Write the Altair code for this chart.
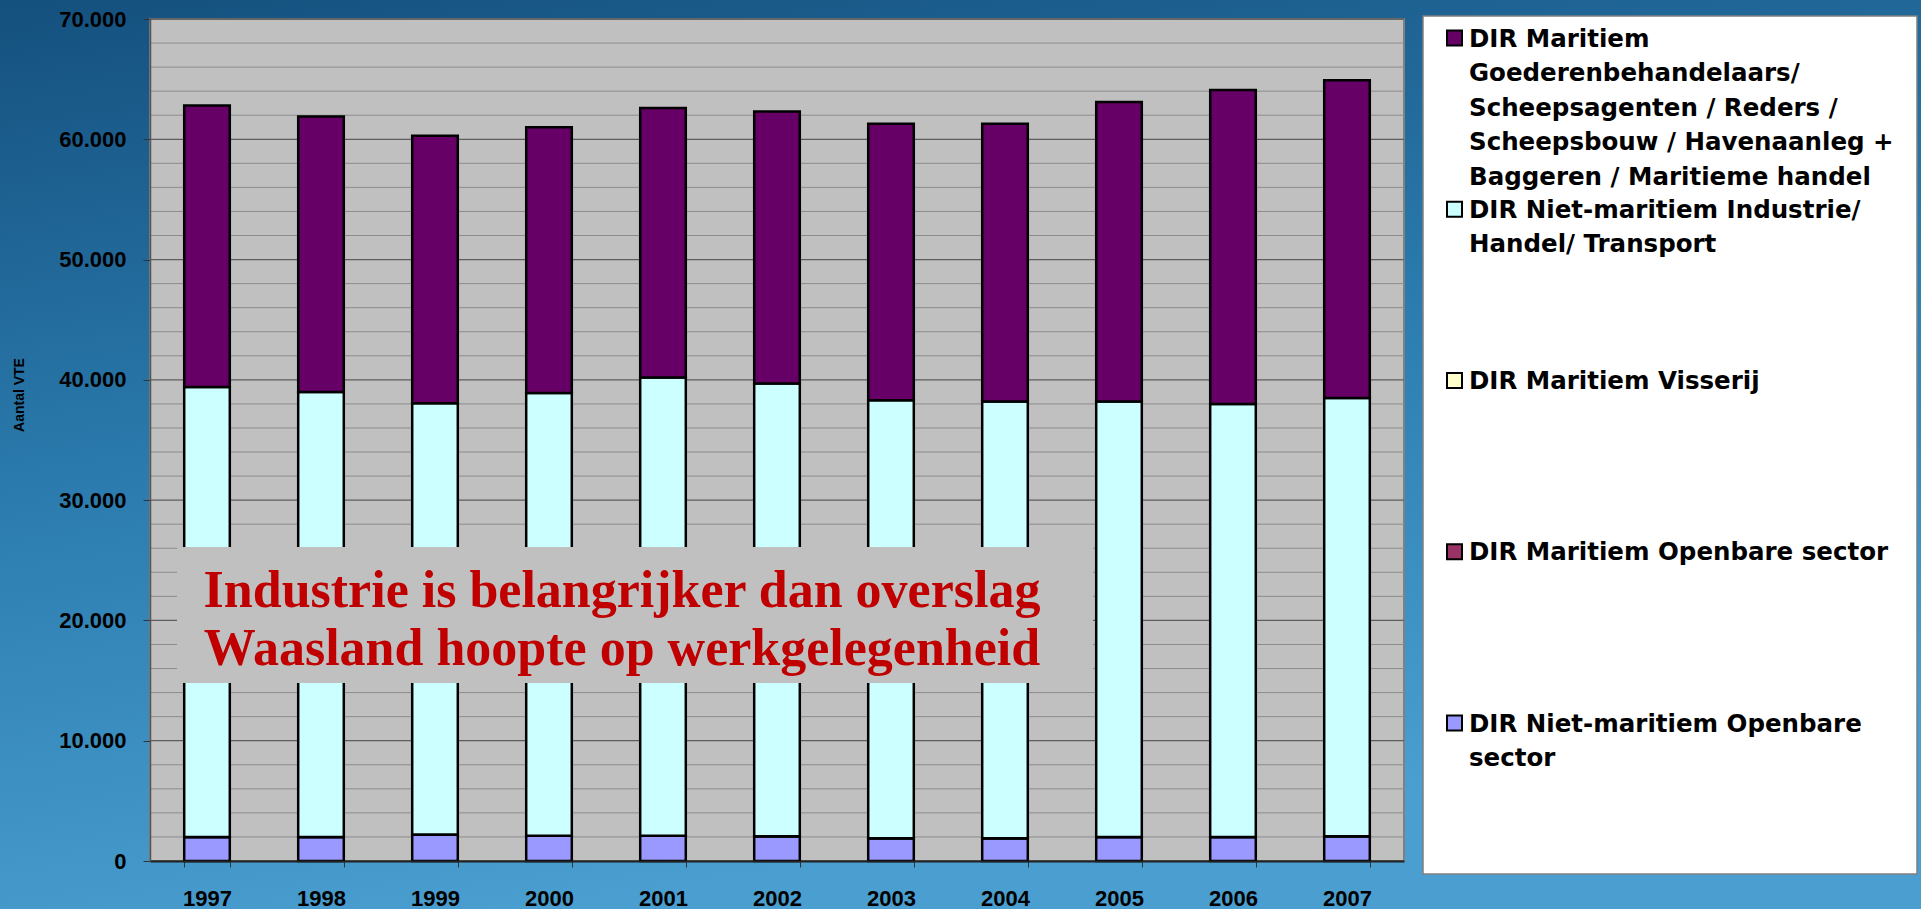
import altair as alt
import pandas as pd

# Employment (VTE) per year, split by sector; stacked bottom to top in this order
years = ["1997", "1998", "1999", "2000", "2001", "2002", "2003", "2004", "2005", "2006", "2007"]

nm_openbare = [2000, 2000, 2200, 2100, 2100, 2050, 1900, 1900, 2000, 2000, 2050]
m_openbare = [0, 0, 0, 0, 0, 0, 0, 0, 0, 0, 0]
m_visserij = [0, 0, 0, 0, 0, 0, 0, 0, 0, 0, 0]
nm_industrie = [37400, 37000, 35850, 36800, 38100, 37650, 36400, 36300, 36200, 36000, 36450]
m_goederen = [23400, 22900, 22250, 22100, 22400, 22600, 23000, 23100, 24900, 26100, 26400]

stack_series = [
    "nm_openbare",
    "m_openbare",
    "m_visserij",
    "nm_industrie",
    "m_goederen",
]
stack_values = [nm_openbare, m_openbare, m_visserij, nm_industrie, m_goederen]
series_colors = ["#9999FF", "#993366", "#FFFFCC", "#CCFFFF", "#660066"]

# Legend entries, listed top to bottom
legend_series = ["m_goederen", "nm_industrie", "m_visserij", "m_openbare", "nm_openbare"]
legend_labels = [
    "DIR Maritiem\nGoederenbehandelaars/\nScheepsagenten / Reders /\nScheepsbouw / Havenaanleg +\nBaggeren / Maritieme handel",
    "DIR Niet-maritiem Industrie/\nHandel/ Transport",
    "DIR Maritiem Visserij",
    "DIR Maritiem Openbare sector",
    "DIR Niet-maritiem Openbare\nsector",
]

y_ticks = [0, 10000, 20000, 30000, 40000, 50000, 60000, 70000]
minor_ticks = [v for v in range(0, 70001, 2000) if v % 10000 != 0]

y_title = "Aantal VTE"
message = "Industrie is belangrijker dan overslag\nWaasland hoopte op werkgelegenheid"

W, H = 1254, 842
SANS = "Liberation Sans"

rows = []
for pos, (name, vals) in enumerate(zip(stack_series, stack_values)):
    for yr, v in zip(years, vals):
        rows.append({"year": yr, "series": name, "value": v, "pos": pos})
bars_df = pd.DataFrame(rows)
legend_df = pd.DataFrame({"series": legend_series, "label": legend_labels})
one = pd.DataFrame({"k": [0]})

color_scale = alt.Scale(domain=stack_series, range=series_colors)
y_scale = alt.Scale(domain=[0, 70000], nice=False, zero=True)
y_axis = alt.Axis(
    title=None,
    values=y_ticks,
    labelExpr="replace(format(datum.value, ','), ',', '.')",
    labelFont=SANS, labelFontWeight="bold", labelFontSize=22, labelColor="black",
    labelPadding=17, tickSize=7, tickColor="#333333", tickWidth=1,
    domainColor="#555555", domainWidth=1.5, grid=False, zindex=1,
)
x_axis = alt.Axis(
    title=None, labelAngle=0,
    labelFont=SANS, labelFontWeight="bold", labelFontSize=22, labelColor="black",
    labelPadding=21, tickBand="extent", tickSize=6, tickColor="#333333",
    domainColor="#222222", domainWidth=2, grid=False, zindex=1,
)

gradient = {
    "gradient": "linear",
    "x1": 0, "y1": 0, "x2": 0.3, "y2": 1,
    "stops": [
        {"offset": 0, "color": "#14507e"},
        {"offset": 0.5, "color": "#2b7bae"},
        {"offset": 1, "color": "#4a9fd0"},
    ],
}

background = alt.Chart(one).mark_rect(fill=gradient).encode(
    x=alt.value(-150), x2=alt.value(W + 517), y=alt.value(-19), y2=alt.value(H + 48)
)
plot_area = alt.Chart(one).mark_rect(fill="#C0C0C0", stroke="#808080", strokeWidth=2).encode(
    x=alt.value(0), x2=alt.value(W), y=alt.value(0), y2=alt.value(H)
)
minor_grid = alt.Chart(pd.DataFrame({"value": minor_ticks})).mark_rule(
    color="#8c8c8c", strokeWidth=1
).encode(y=alt.Y("value:Q", scale=y_scale, axis=y_axis), x=alt.value(0), x2=alt.value(W))
major_grid = alt.Chart(pd.DataFrame({"value": y_ticks})).mark_rule(
    color="#5e5e5e", strokeWidth=1.3
).encode(y=alt.Y("value:Q", scale=y_scale, axis=y_axis), x=alt.value(0), x2=alt.value(W))

bars = alt.Chart(bars_df).mark_bar(stroke="black", strokeWidth=2.5).encode(
    x=alt.X("year:N", sort=years, scale=alt.Scale(paddingInner=0.6, paddingOuter=0.3), axis=x_axis),
    y=alt.Y("value:Q", stack="zero", scale=y_scale, axis=y_axis),
    color=alt.Color("series:N", scale=color_scale, legend=None),
    order=alt.Order("pos:Q", sort="ascending"),
)

axis_title = alt.Chart(pd.DataFrame({"t": [y_title]})).mark_text(
    font=SANS, fontWeight="bold", fontSize=14, color="black",
    angle=270, align="center", baseline="middle",
).encode(text="t:N", x=alt.value(-130), y=alt.value(376))

note_box = alt.Chart(one).mark_rect(fill="#C0C0C0").encode(
    x=alt.value(27), x2=alt.value(943), y=alt.value(528), y2=alt.value(664)
)
note_text = alt.Chart(pd.DataFrame({"t": [message]})).mark_text(
    font="Liberation Serif", fontWeight="bold", fontSize=52, color="#C00000",
    align="center", baseline="top", lineBreak="\n", lineHeight=58,
).encode(text="t:N", x=alt.value(472), y=alt.value(547))

main = alt.layer(background, plot_area, minor_grid, major_grid, bars, axis_title, note_box, note_text)

legend_y = alt.Scale(type="point", domain=legend_series, range=[19, 704], padding=0)
legend_box = alt.Chart(one).mark_rect(fill="white", stroke="#808080", strokeWidth=1.5).encode(
    x=alt.value(1273), x2=alt.value(1767), y=alt.value(-3), y2=alt.value(855)
)
legend_swatch = alt.Chart(legend_df).mark_square(
    size=225, filled=True, opacity=1, stroke="black", strokeWidth=2
).encode(
    x=alt.value(1304.5),
    y=alt.Y("series:N", scale=legend_y, axis=None),
    color=alt.Color("series:N", scale=color_scale, legend=None),
)
legend_text = alt.Chart(legend_df).mark_text(
    align="left", baseline="top", dy=-10.5, font="DejaVu Sans", fontWeight="bold", fontSize=24.5,
    lineBreak="\n", lineHeight=34.5, color="black",
).encode(
    x=alt.value(1319),
    y=alt.Y("series:N", scale=legend_y, axis=None),
    text="label:N",
)
legend = alt.layer(legend_box, legend_swatch, legend_text)

chart = (
    alt.layer(main, legend)
    .resolve_scale(y="independent")
    .properties(width=W, height=H, padding=0, background="#2b7bae")
    .configure_view(strokeWidth=0)
)

chart.save("out.html", embed_options={"renderer": "svg", "actions": False})
